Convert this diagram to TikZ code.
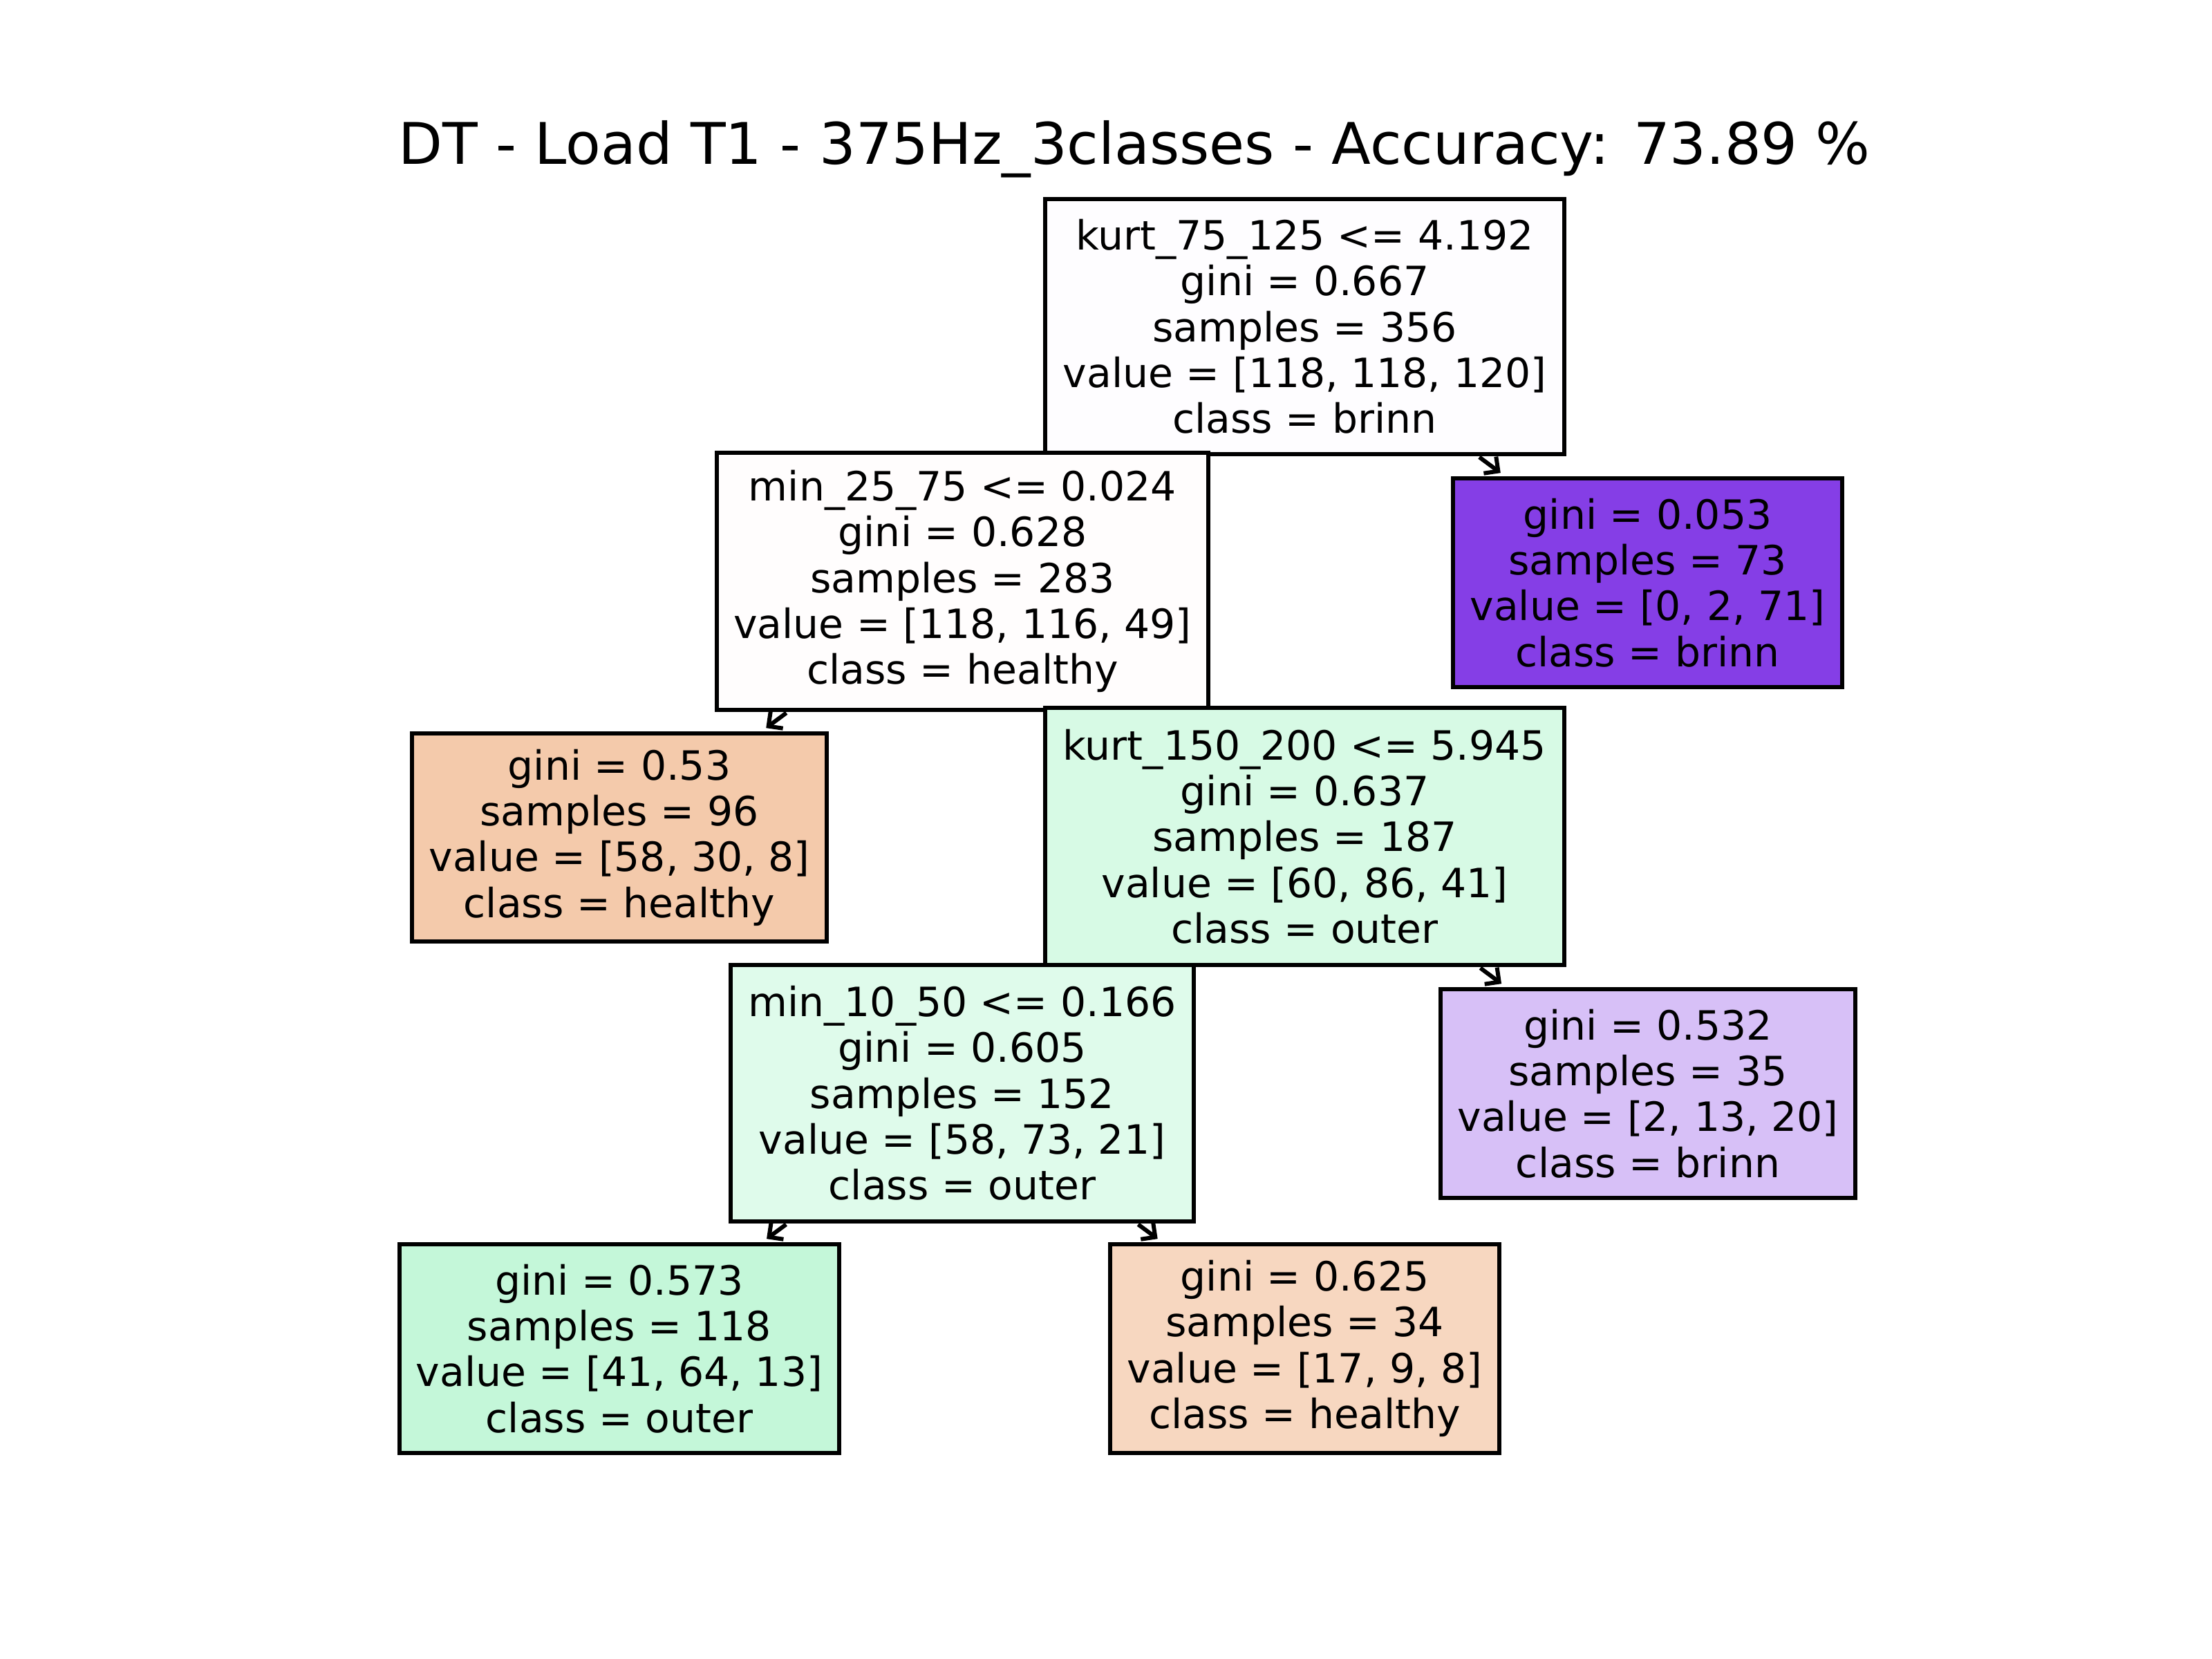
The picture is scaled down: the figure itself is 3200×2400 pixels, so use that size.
\documentclass[tikz,border=0pt]{standalone}
\usepackage{fontspec}
\setmainfont{DejaVu Sans}
\usetikzlibrary{arrows.meta}
\definecolor{croot}{RGB}{254,253,255}
\definecolor{cna}{RGB}{255,253,253}
\definecolor{cnb}{RGB}{133,62,230}
\definecolor{cnc}{RGB}{244,202,171}
\definecolor{cnd}{RGB}{215,250,229}
\definecolor{cne}{RGB}{223,251,235}
\definecolor{cnf}{RGB}{215,192,247}
\definecolor{cng}{RGB}{196,247,217}
\definecolor{cnh}{RGB}{247,215,192}
\begin{document}
\begin{tikzpicture}[x=0.01cm,y=-0.01cm,
  box/.style={draw=black, line width=0.06cm, inner sep=0pt, align=center,
    font=\fontsize{16.6}{18.86}\selectfont},
  arr/.style={-{Straight Barb[length=0.15cm,width=0.3cm,line width=0.06cm]}, line width=0.06cm, shorten >=0.08cm, shorten <=0.02cm}]
\useasboundingbox[fill=white] (0,0) rectangle (3200,2400);
\node (title) at (1641,216) {\fontsize{23.6}{28}\selectfont DT - Load T1 - 375Hz\_3classes - Accuracy: 73.89 \%};
\node[box, fill=croot, minimum width=7.51cm, minimum height=3.69cm] (n0) at (1887.5,472.5)
  {kurt\_75\_125 <= 4.192\\gini = 0.667\\samples = 356\\value = [118, 118, 120]\\class = brinn};
\node[box, fill=cna, minimum width=7.11cm, minimum height=3.72cm] (n1) at (1392.5,841)
  {min\_25\_75 <= 0.024\\gini = 0.628\\samples = 283\\value = [118, 116, 49]\\class = healthy};
\node[box, fill=cnb, minimum width=5.63cm, minimum height=3.02cm] (n2) at (2383.5,843)
  {gini = 0.053\\samples = 73\\value = [0, 2, 71]\\class = brinn};
\node[box, fill=cnc, minimum width=6.00cm, minimum height=3.01cm] (n3) at (896,1211.5)
  {gini = 0.53\\samples = 96\\value = [58, 30, 8]\\class = healthy};
\node[box, fill=cnd, minimum width=7.51cm, minimum height=3.72cm] (n4) at (1887.5,1210)
  {kurt\_150\_200 <= 5.945\\gini = 0.637\\samples = 187\\value = [60, 86, 41]\\class = outer};
\node[box, fill=cne, minimum width=6.70cm, minimum height=3.71cm] (n5) at (1392,1581.5)
  {min\_10\_50 <= 0.166\\gini = 0.605\\samples = 152\\value = [58, 73, 21]\\class = outer};
\node[box, fill=cnf, minimum width=6.00cm, minimum height=3.02cm] (n6) at (2384,1582)
  {gini = 0.532\\samples = 35\\value = [2, 13, 20]\\class = brinn};
\node[box, fill=cng, minimum width=6.36cm, minimum height=3.02cm] (n7) at (896,1951)
  {gini = 0.573\\samples = 118\\value = [41, 64, 13]\\class = outer};
\node[box, fill=cnh, minimum width=5.63cm, minimum height=3.02cm] (n8) at (1887.5,1951)
  {gini = 0.625\\samples = 34\\value = [17, 9, 8]\\class = healthy};
\draw[arr] (n0) -- (n2);
\draw[arr] (n1) -- (n3);
\draw[arr] (n4) -- (n6);
\draw[arr] (n5) -- (n7);
\draw[arr] (n5) -- (n8);
\end{tikzpicture}
\end{document}
